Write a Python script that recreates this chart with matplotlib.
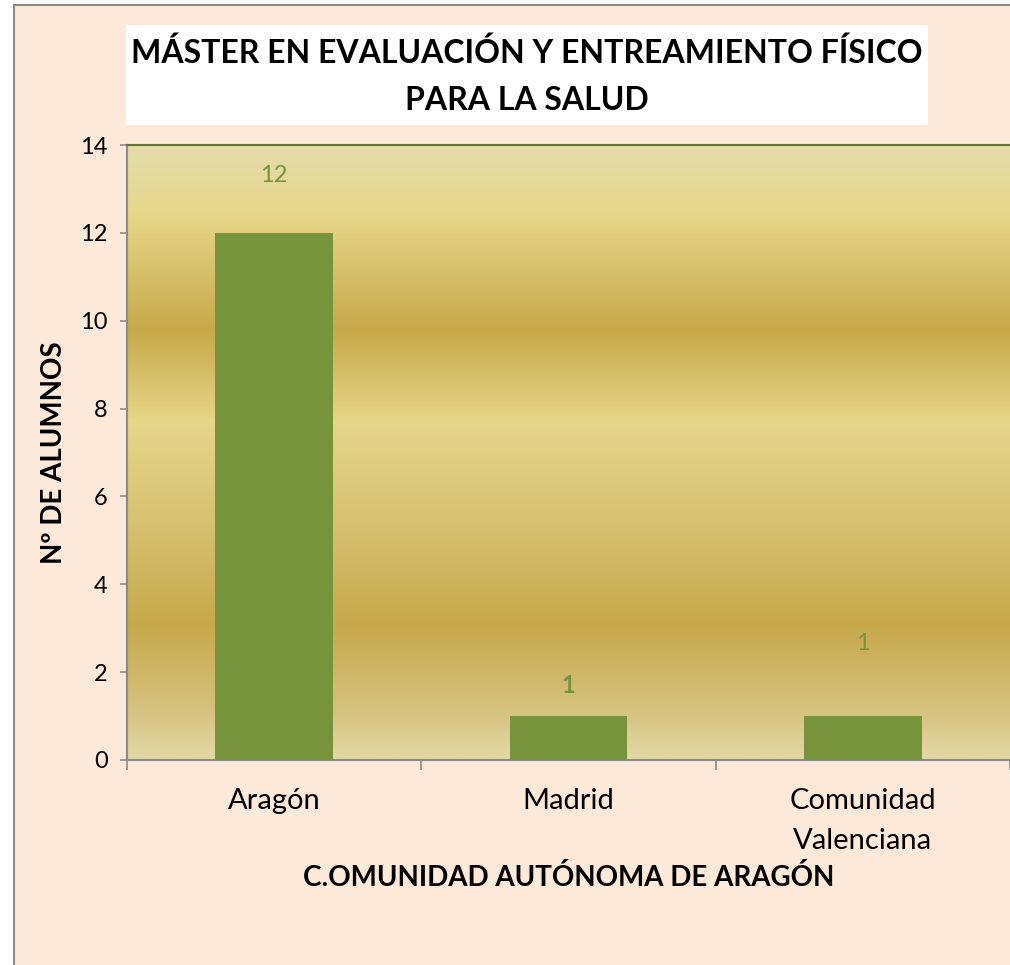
import numpy as np
import matplotlib
matplotlib.use('Agg')
import matplotlib.pyplot as plt
from matplotlib.colors import LinearSegmentedColormap
from matplotlib.patches import Rectangle

categorias = ['Aragón', 'Madrid', 'Comunidad\nValenciana']
alumnos = [12, 1, 1]
# posición vertical de cada etiqueta de datos (como en el original)
pos_etiquetas = [13.3, 1.7, 2.66]
negrita_etiquetas = ['normal', 'bold', 'normal']

titulo = ['MÁSTER EN EVALUACIÓN Y ENTREAMIENTO FÍSICO', 'PARA LA SALUD']
eje_x = 'C.OMUNIDAD AUTÓNOMA DE ARAGÓN'
eje_y = 'Nº DE ALUMNOS'

plt.rcParams['font.family'] = ['Lato', 'DejaVu Sans']

W, H = 1010, 965
fig = plt.figure(figsize=(W / 100, H / 100), dpi=100)
fig.patch.set_facecolor('white')
# marco del gráfico
fig.patches.append(Rectangle((14 / W, -0.1), 1.2, (H - 5) / H + 0.1,
                             transform=fig.transFigure, facecolor='#fde9d9',
                             edgecolor='#8c8c8c', linewidth=1.5, zorder=-10))
# caja blanca del título
fig.patches.append(Rectangle((126 / W, 1 - 125 / H), (928 - 126) / W, 100 / H,
                             transform=fig.transFigure, facecolor='white',
                             edgecolor='none', zorder=-5))
fig.text(527 / W, 1 - 53 / H, titulo[0], ha='center', va='center',
         fontsize=23, fontweight='bold')
fig.text(527 / W, 1 - 100 / H, titulo[1], ha='center', va='center',
         fontsize=23, fontweight='bold')

ax = fig.add_axes([127 / W, 205 / H, 1 - 127 / W, 615 / H])
ax.set_facecolor('none')

verde = '#77933c'
x = np.arange(len(categorias))
ax.bar(x, alumnos, width=0.4, color=verde, zorder=3)

# fondo degradado dorado (de arriba a abajo)
stops = [(0.0, '#e4dcab'), (0.11, '#e7d78a'), (0.30, '#c6a94b'),
         (0.45, '#e6d689'), (0.62, '#d6c071'), (0.78, '#c6a94b'),
         (0.92, '#d6c27f'), (1.0, '#e3d8a5')]
cmap = LinearSegmentedColormap.from_list('oro', stops)
grad = np.linspace(0, 1, 512).reshape(-1, 1)
ax.imshow(grad, cmap=cmap, aspect='auto', extent=(-0.5, 2.5, 0, 14),
          origin='upper', zorder=0, interpolation='bilinear')

ax.set_xlim(-0.5, 2.5)
ax.set_ylim(0, 14)
ax.set_yticks(range(0, 15, 2))
ax.set_xticks(x)
ax.set_xticklabels(categorias, fontsize=21, linespacing=1.7)
ax.set_xticks([-0.5, 0.5, 1.5, 2.5], minor=True)
ax.tick_params(axis='x', which='major', length=0, pad=20)
ax.tick_params(axis='x', which='minor', length=7, width=1.2, color='#8c8c8c')
ax.tick_params(axis='y', length=5, width=1.2, color='#8c8c8c', labelsize=17, pad=9)

for lado in ['left', 'bottom']:
    ax.spines[lado].set_color('#8c8c8c')
    ax.spines[lado].set_linewidth(1.5)
ax.spines['top'].set_color('#5f7a33')
ax.spines['top'].set_linewidth(1.5)
ax.spines['right'].set_visible(False)

for xi, y, peso, v in zip(x, pos_etiquetas, negrita_etiquetas, alumnos):
    ax.text(xi, y, str(v), ha='center', va='center', fontsize=17,
            color=verde, fontweight=peso)

ax.set_xlabel(eje_x, fontsize=20, fontweight='bold', labelpad=7)
ax.set_ylabel(eje_y, fontsize=20, fontweight='bold')
ax.yaxis.set_label_coords(-0.068, 0.5)

fig.savefig('out.png', dpi=100, facecolor=fig.get_facecolor())
